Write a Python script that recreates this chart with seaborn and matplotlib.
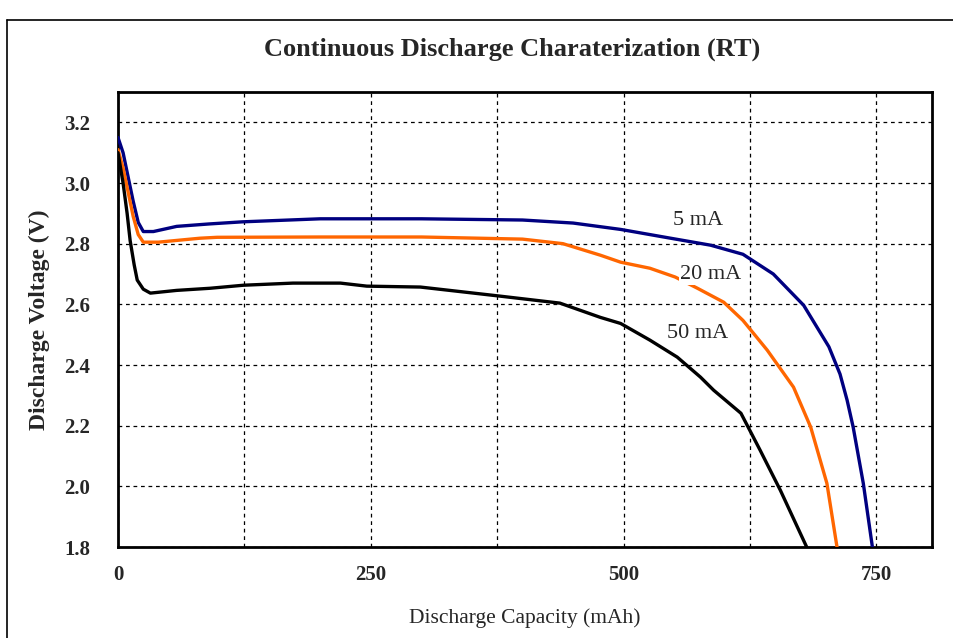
import pandas as pd
import matplotlib.pyplot as plt
import seaborn as sns
from matplotlib.lines import Line2D

# values
cap_5ma = [0, 5, 10, 15, 20, 25, 35, 58, 90, 123, 200, 300, 400, 450, 497, 543, 586, 618, 648, 678, 703, 714, 721, 727, 737, 746]
volt_5ma = [3.15, 3.10, 3.02, 2.94, 2.87, 2.84, 2.84, 2.857, 2.865, 2.872, 2.882, 2.882, 2.878, 2.868, 2.847, 2.82, 2.795, 2.765, 2.70, 2.597, 2.46, 2.37, 2.284, 2.195, 2.01, 1.80]

cap_20ma = [0, 5, 10, 15, 20, 25, 40, 81, 98, 200, 300, 400, 440, 477, 497, 526, 551, 573, 599, 618, 642, 668, 685, 701, 711]
volt_20ma = [3.11, 3.05, 2.97, 2.89, 2.83, 2.805, 2.805, 2.818, 2.821, 2.822, 2.822, 2.815, 2.80, 2.762, 2.739, 2.719, 2.69, 2.653, 2.607, 2.547, 2.449, 2.327, 2.195, 2.01, 1.80]

cap_50ma = [0, 5, 9, 12, 16, 19, 25, 32, 58, 91, 124, 173, 220, 246, 299, 378, 437, 477, 497, 526, 553, 576, 589, 616, 635, 655, 681]
volt_50ma = [3.10, 3.0, 2.90, 2.81, 2.73, 2.68, 2.65, 2.637, 2.646, 2.653, 2.663, 2.67, 2.67, 2.66, 2.657, 2.627, 2.604, 2.557, 2.537, 2.482, 2.426, 2.36, 2.317, 2.241, 2.119, 1.987, 1.80]

series_names = ["5 mA", "20 mA", "50 mA"]
series_colors = ["#000080", "#FF6600", "#000000"]
label_pos = [(574, 2.877), (586, 2.70), (573, 2.505)]

x_ticks = [0, 125, 250, 375, 500, 625, 750]
x_tick_labels = ["0", "", "250", "", "500", "", "750"]
y_ticks = [1.8, 2.0, 2.2, 2.4, 2.6, 2.8, 3.0, 3.2]

df = pd.concat([
    pd.DataFrame({"cap": cap_5ma, "volt": volt_5ma, "rate": "5 mA"}),
    pd.DataFrame({"cap": cap_20ma, "volt": volt_20ma, "rate": "20 mA"}),
    pd.DataFrame({"cap": cap_50ma, "volt": volt_50ma, "rate": "50 mA"}),
], ignore_index=True)

sns.set_style("white")
plt.rcParams['font.family'] = ['Liberation Serif', 'DejaVu Serif']

fig = plt.figure(figsize=(9.54, 6.38), dpi=100)
ax = fig.add_axes([0.1237, 0.1426, 0.8533, 0.7132])

sns.lineplot(
    data=df, x="cap", y="volt", hue="rate", sort=False,
    palette=dict(zip(series_names, series_colors)),
    linewidth=2.4, legend=False, ax=ax, zorder=3
)
for ln in ax.get_lines():
    ln.set_solid_joinstyle('round')

# curve labels with white background breaking the lines
for name, (lx, ly) in zip(series_names, label_pos):
    ax.text(lx, ly, name, fontsize=16, ha='center', va='center', zorder=5,
            bbox=dict(facecolor='white', edgecolor='none', pad=1))

ax.set_xlim(0, 805)
ax.set_ylim(1.8, 3.3)
ax.set_xticks(x_ticks)
ax.set_xticklabels(x_tick_labels)
ax.set_yticks(y_ticks)
ax.set_yticklabels([f"{v:.1f}" for v in y_ticks])
ax.tick_params(length=0, labelsize=15)
ax.tick_params(axis='x', pad=13)
ax.tick_params(axis='y', pad=20)
for lbl in ax.get_xticklabels() + ax.get_yticklabels():
    lbl.set_fontweight('bold')

ax.grid(True, color='black', linestyle=(0, (3, 3)), linewidth=0.9)
for sp in ax.spines.values():
    sp.set_color('black')
    sp.set_linewidth(2)

ax.set_xlabel("Discharge Capacity (mAh)", fontsize=15.5, labelpad=17)
ax.set_ylabel("Discharge Voltage (V)", fontsize=17, fontweight='bold', labelpad=10)

fig.text(0.537, 0.922, "Continuous Discharge Charaterization (RT)",
         fontsize=19, fontweight='bold', ha='center', va='center')

# outer frame (top and left edges visible)
fig.add_artist(Line2D([0.0073, 1.0], [0.9687, 0.9687], color='black', linewidth=1.2, transform=fig.transFigure))
fig.add_artist(Line2D([0.0073, 0.0073], [0.0, 0.9687], color='black', linewidth=1.2, transform=fig.transFigure))

fig.savefig("out.png", dpi=100, facecolor='white')
